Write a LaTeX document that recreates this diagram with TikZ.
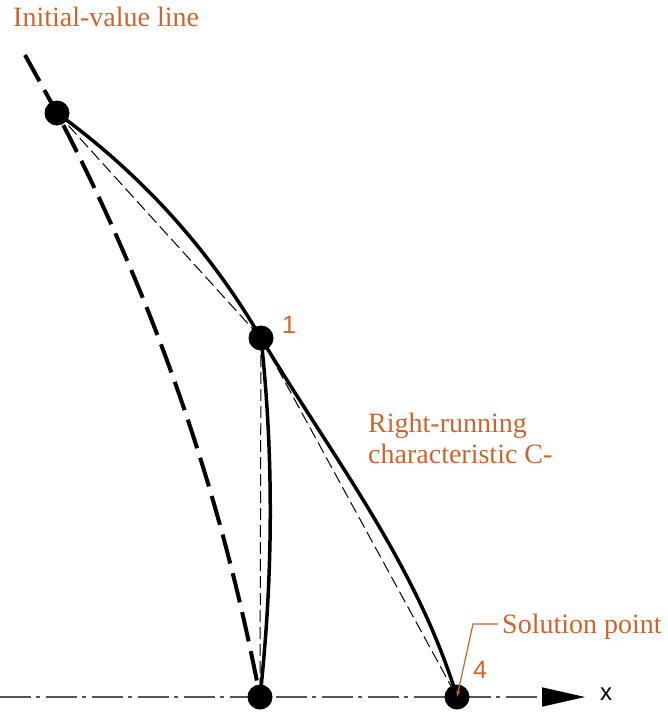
\documentclass[tikz,border=0pt]{standalone}
\usepackage{fontspec}
\setmainfont{Liberation Serif}
\newfontfamily\sansf{Liberation Sans}
\usetikzlibrary{arrows.meta}
\definecolor{lblorange}{RGB}{200,102,48}
\definecolor{axisgray}{RGB}{85,85,85}
\begin{document}
\begin{tikzpicture}[x=1pt,y=-1pt,
  pt/.style={circle,fill=black,inner sep=0pt,minimum size=25pt},
  thickcurve/.style={line width=3.5pt},
  thickdash/.style={line width=4pt,dash pattern=on 30pt off 10pt},
  chord/.style={line width=1pt,dash pattern=on 12pt off 5pt},
  axisline/.style={line width=1.6pt,axisgray,dash pattern=on 31pt off 5pt on 4pt off 6pt},
  lbl/.style={text=lblorange,inner sep=0pt,font=\fontsize{28}{31}\selectfont},
  num/.style={text=lblorange,inner sep=0pt,font=\sansf\fontsize{25}{28}\selectfont},
  leader/.style={lblorange,line width=1.2pt}]
\useasboundingbox (0,0) rectangle (667,717);
\coordinate (cA) at (57,113);
\coordinate (c1) at (261,338);
\coordinate (cB) at (260,697);
\coordinate (c4) at (457,697);
\coordinate (axs) at (0,697);
\coordinate (axe) at (585,697);
\coordinate (ivtop) at (25,55);
\coordinate (ldstart) at (498,624);
\coordinate (ldknee) at (473,624);
% axis
\draw[axisline,-{Triangle[length=43pt,width=19pt,black]}] (axs) -- (axe);
% chords
\draw[chord] (cA) -- (c1);
\draw[chord] (c1) -- (cB);
\draw[chord] (c1) -- (c4);
% initial-value line
\draw[thickdash] (ivtop) -- (cA) .. controls (154,298) and (221,492) .. (cB);
% characteristics
\draw[thickcurve] (cA) .. controls (141,174) and (209,249) .. (c1);
\draw[thickcurve] (c1) .. controls (274,458) and (273,578) .. (cB);
\draw[thickcurve] (c1) .. controls (333,458) and (416,563) .. (c4);
% points
\node[pt] (A) at (cA) {};
\node[pt] (P1) at (c1) {};
\node[pt] (B) at (cB) {};
\node[pt] (P4) at (c4) {};
% leader
\draw[leader,-{Stealth[length=7pt,width=4pt]}] (ldstart) -- (ldknee) -- (P4.center);
% labels
\node[lbl,anchor=base west] (ivl) at (13,27) {Initial-value line};
\node[num,anchor=base west] (l1) at (282,333) {1};
\node[lbl,anchor=base west] (rr1) at (368,432) {Right-running};
\node[lbl,anchor=base west] (rr2) at (368,463) {characteristic C-};
\node[lbl,anchor=base west] (sp) at (502,633) {Solution point};
\node[num,anchor=base west] (l4) at (473,678) {4};
\node[anchor=base west,inner sep=0pt,font=\sansf\fontsize{24}{28}\selectfont] (xl) at (600,700) {x};
\end{tikzpicture}
\end{document}
